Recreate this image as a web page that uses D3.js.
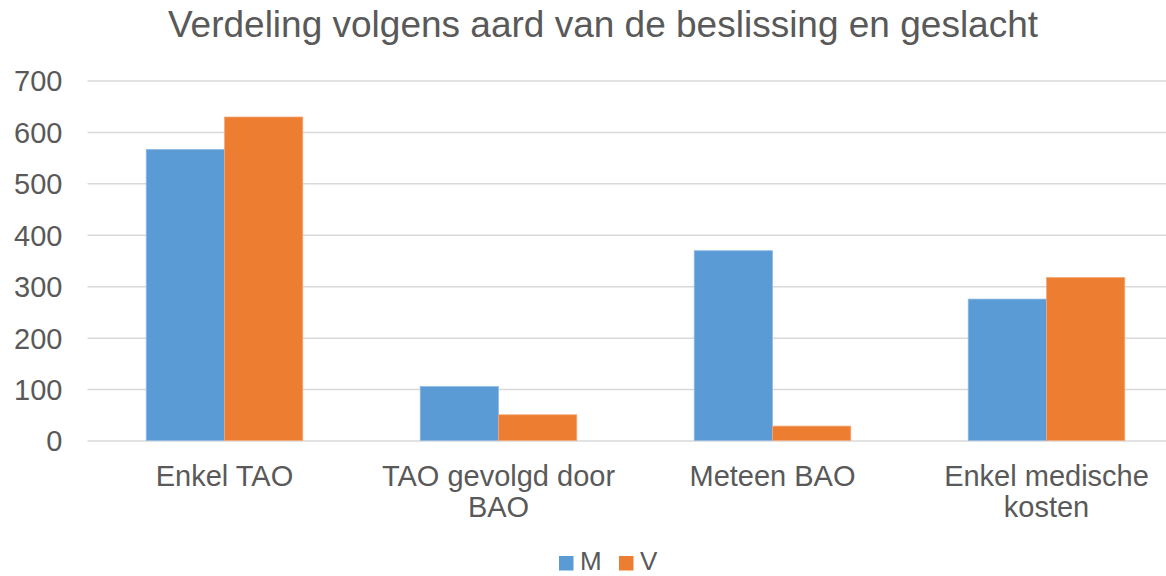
<!DOCTYPE html>
<html>
<head>
<meta charset="utf-8">
<script src="https://cdn.jsdelivr.net/npm/d3@7"></script>
<style>
  html, body { margin: 0; padding: 0; background: #fff; }
  svg { display: block; font-family: "Liberation Sans", Arial, sans-serif; }
</style>
</head>
<body>
<svg id="chart" width="1166" height="576"></svg>
<script>
const title = "Verdeling volgens aard van de beslissing en geslacht";
const categories = [["Enkel TAO"], ["TAO gevolgd door", "BAO"], ["Meteen BAO"], ["Enkel medische", "kosten"]];
const seriesNames = ["M", "V"];
const valuesM = [566, 105, 369, 275];
const valuesV = [629, 50, 28, 317];
const yTicks = [0, 100, 200, 300, 400, 500, 600, 700];
const colors = ["#5B9BD5", "#ED7D31"];
const strokes = ["#8DBAE5", "#F3A877"];

const svg = d3.select("#chart");
const plotLeft = 87.5, plotRight = 1183.5, plotTop = 80.5, plotBottom = 440.5;

const x = d3.scaleBand().domain(d3.range(categories.length)).range([plotLeft, plotRight]);
const y = d3.scaleLinear().domain([0, 700]).range([plotBottom, plotTop]);
const barW = x.bandwidth() / 3.5;
const xs = d3.scaleBand().domain(seriesNames).range([0, 2 * barW]);

// title
svg.append("text")
  .attr("x", 603).attr("y", 37)
  .attr("text-anchor", "middle")
  .attr("font-size", 37)
  .attr("fill", "#595959")
  .text(title);

// gridlines + y labels
const yAxis = d3.axisLeft(y).tickValues(yTicks).tickSize(0).tickPadding(0);
const gy = svg.append("g").attr("transform", `translate(${plotLeft},0)`).call(yAxis);
gy.select(".domain").remove();
gy.selectAll(".tick text")
  .attr("x", -25)
  .attr("dy", "0.36em")
  .attr("font-size", 29)
  .attr("font-family", "Liberation Sans, Arial, sans-serif")
  .attr("fill", "#595959");
gy.selectAll(".tick").append("line")
  .attr("x1", 0).attr("x2", plotRight - plotLeft)
  .attr("stroke", "#D9D9D9").attr("stroke-width", 1.5);

// bars
const data = [valuesM, valuesV];
data.forEach((vals, si) => {
  svg.append("g").selectAll("rect")
    .data(vals)
    .join("rect")
    .attr("x", (d, i) => x(i) + (x.bandwidth() - 2 * barW) / 2 + xs(seriesNames[si]))
    .attr("y", d => y(d))
    .attr("width", barW)
    .attr("height", d => y(0) - y(d))
    .attr("fill", colors[si])
    .attr("stroke", strokes[si])
    .attr("stroke-width", 0.75);
});

// x labels
const xl = svg.append("g");
categories.forEach((lines, i) => {
  const t = xl.append("text")
    .attr("x", x(i) + x.bandwidth() / 2)
    .attr("y", 486)
    .attr("text-anchor", "middle")
    .attr("font-size", 29)
    .attr("fill", "#595959");
  lines.forEach((ln, j) => {
    t.append("tspan").attr("x", x(i) + x.bandwidth() / 2).attr("dy", j === 0 ? 0 : 31).text(ln);
  });
});

// legend
const legendX = [559, 619];
seriesNames.forEach((n, i) => {
  svg.append("rect")
    .attr("x", legendX[i]).attr("y", 556)
    .attr("width", 14.5).attr("height", 14.5)
    .attr("fill", colors[i]);
  svg.append("text")
    .attr("x", legendX[i] + 21).attr("y", 570)
    .attr("font-size", 26)
    .attr("fill", "#595959")
    .text(n);
});
</script>
</body>
</html>
